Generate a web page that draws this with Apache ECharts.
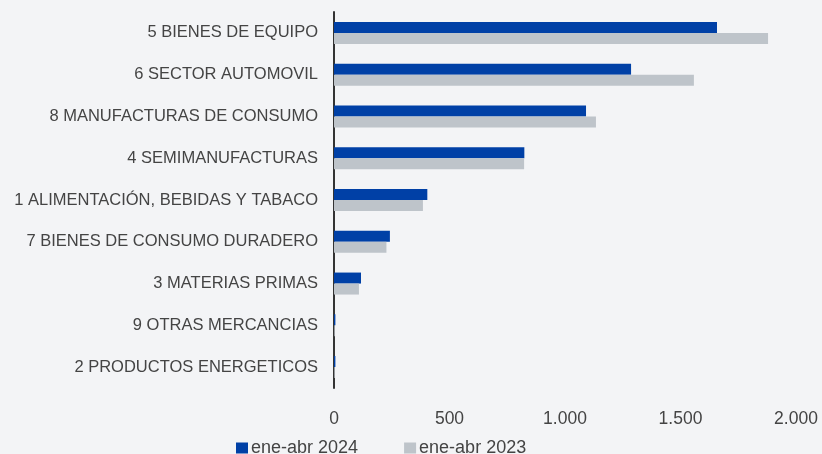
<!DOCTYPE html>
<html>
<head>
<meta charset="utf-8">
<script src="https://cdn.jsdelivr.net/npm/echarts@6/dist/echarts.min.js"></script>
<style>
    html, body { margin: 0; padding: 0; background: #f3f4f6; }
    #chart { width: 822px; height: 454px; }
</style>
</head>
<body>
<div id="chart"></div>
<script>
// categorias, de arriba a abajo
var categories = [
    '5 BIENES DE EQUIPO',
    '6 SECTOR AUTOMOVIL',
    '8 MANUFACTURAS DE CONSUMO',
    '4 SEMIMANUFACTURAS',
    '1 ALIMENTACIÓN, BEBIDAS Y TABACO',
    '7 BIENES DE CONSUMO DURADERO',
    '3 MATERIAS PRIMAS',
    '9 OTRAS MERCANCIAS',
    '2 PRODUCTOS ENERGETICOS'
];
var seriesNames = ['ene-abr 2024', 'ene-abr 2023'];
var values2024 = [1658, 1286, 1091, 824, 404, 242, 117, 6, 6];
var values2023 = [1879, 1558, 1134, 823, 385, 227, 108, 3, 3];
var xTicks = [0, 500, 1000, 1500, 2000];

var font = '"Liberation Sans", sans-serif';

var chart = echarts.init(document.getElementById('chart'));
chart.setOption({
    backgroundColor: '#f3f4f6',
    textStyle: { fontFamily: font },
    grid: { left: 334, right: 26, top: 12, bottom: 66, containLabel: false },
    legend: {
        data: seriesNames,
        top: 434,
        left: 231,
        itemWidth: 12,
        itemHeight: 11,
        itemGap: 46,
        icon: 'rect',
        textStyle: { fontFamily: font, fontSize: 18, color: '#444444', padding: [0, 0, 0, -2] }
    },
    xAxis: {
        type: 'value',
        min: xTicks[0],
        max: xTicks[xTicks.length - 1],
        interval: 500,
        axisLine: { show: false },
        axisTick: { show: false },
        splitLine: { show: false },
        axisLabel: {
            fontSize: 17.5,
            color: '#444444',
            margin: 22,
            formatter: function (v) { return v.toLocaleString('de-DE'); }
        }
    },
    yAxis: {
        type: 'category',
        inverse: true,
        data: categories,
        axisLine: { show: true, lineStyle: { color: '#333333', width: 2 } },
        axisTick: { show: false },
        axisLabel: { fontSize: 16.5, color: '#444444', margin: 16 }
    },
    series: [
        {
            name: seriesNames[0],
            type: 'bar',
            data: values2024,
            barWidth: 11,
            barGap: '0%',
            itemStyle: { color: '#0040a6' }
        },
        {
            name: seriesNames[1],
            type: 'bar',
            data: values2023,
            barWidth: 11,
            barGap: '0%',
            itemStyle: { color: '#bec4ca' }
        }
    ]
});
</script>
</body>
</html>
